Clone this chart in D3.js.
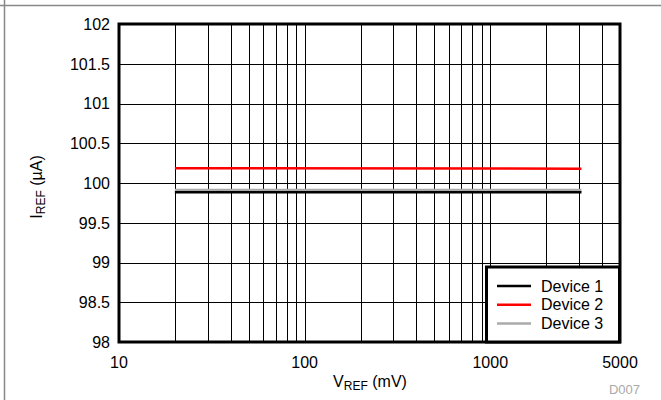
<!DOCTYPE html>
<html><head><meta charset="utf-8">
<script src="https://cdn.jsdelivr.net/npm/d3@7"></script>
<style>body{margin:0;background:#fff}svg{display:block}text{font-family:"Liberation Sans",Arial,sans-serif}</style>
</head><body><svg id="c" width="661" height="400"></svg>
<script>
const yTicks = [98, 98.5, 99, 99.5, 100, 100.5, 101, 101.5, 102];
const xTickLabels = [10, 100, 1000, 5000];
const xGrid = [20,30,40,50,60,70,80,90,100,200,300,400,500,600,700,800,900,1000,2000,3000,4000];
const seriesNames = ["Device 1", "Device 2", "Device 3"];
const seriesColors = ["#000000", "#ff0000", "#aaaaaa"];
const vref = [20, 3100];
const device1 = [99.885, 99.885];
const device2 = [100.185, 100.18];
const device3 = [99.91, 99.91];
const seriesData = [device1, device2, device3];

const svg = d3.select("#c");
const L = 119, R = 620, T = 24, B = 342;
const x = d3.scaleLog().domain([10, 5000]).range([L, R]);
const y = d3.scaleLinear().domain([98, 102]).range([B, T]);

// outer frame
svg.append("line").attr("x1",0).attr("x2",661).attr("y1",5.5).attr("y2",5.5).attr("stroke","#888").attr("stroke-width",1.5);
svg.append("line").attr("x1",4.5).attr("x2",4.5).attr("y1",0).attr("y2",400).attr("stroke","#888").attr("stroke-width",1.5);

// grid
svg.append("g").selectAll("line").data(xGrid).join("line")
  .attr("x1", d => Math.round(x(d))+0.5).attr("x2", d => Math.round(x(d))+0.5)
  .attr("y1", T).attr("y2", B).attr("stroke", "#000").attr("stroke-width", 1);
svg.append("g").selectAll("line").data(yTicks).join("line")
  .attr("x1", L).attr("x2", R)
  .attr("y1", d => Math.round(y(d))+0.5).attr("y2", d => Math.round(y(d))+0.5)
  .attr("stroke", "#000").attr("stroke-width", 1);

// series
const line = d3.line().x((d,i) => x(vref[i])).y(d => y(d));
const order = [2, 0, 1];
order.forEach(i => {
  svg.append("path").datum(seriesData[i]).attr("d", line)
    .attr("fill","none").attr("stroke", seriesColors[i]).attr("stroke-width", i===2 ? 3 : 2.5);
});

// frame
svg.append("rect").attr("x", L).attr("y", T).attr("width", R-L).attr("height", B-T)
  .attr("fill","none").attr("stroke","#000").attr("stroke-width",3);

// y tick labels
svg.append("g").selectAll("text").data(yTicks).join("text")
  .attr("x", 110).attr("y", d => y(d)).attr("dy","0.36em").attr("text-anchor","end")
  .attr("font-size", 16).text(d => d);
// x tick labels
svg.append("g").selectAll("text").data(xTickLabels).join("text")
  .attr("x", d => x(d)).attr("y", 368).attr("text-anchor","middle")
  .attr("font-size", 16).text(d => d);

// axis titles
const yt = svg.append("text").attr("transform","translate(42,187) rotate(-90)").attr("text-anchor","middle").attr("font-size",16);
yt.append("tspan").text("I");
yt.append("tspan").attr("font-size",12).attr("dy",3).text("REF");
yt.append("tspan").attr("dy",-3).text(" (µA)");
const xt = svg.append("text").attr("x", 370).attr("y", 387).attr("text-anchor","middle").attr("font-size",16);
xt.append("tspan").text("V");
xt.append("tspan").attr("font-size",12).attr("dy",3).text("REF");
xt.append("tspan").attr("dy",-3).text(" (mV)");

svg.append("text").attr("x", 640).attr("y", 394).attr("text-anchor","end").attr("font-size",13).attr("fill","#aaa").text("D007");

// legend
const lg = svg.append("g");
lg.append("rect").attr("x",486.5).attr("y",267).attr("width",133).attr("height",75).attr("fill","#fff").attr("stroke","#000").attr("stroke-width",3);
seriesNames.forEach((n,i) => {
  const yy = 286 + i*18.7;
  lg.append("line").attr("x1",497).attr("x2",531).attr("y1",yy).attr("y2",yy).attr("stroke",seriesColors[i]).attr("stroke-width",2.5);
  lg.append("text").attr("x",541).attr("y",yy).attr("dy","0.36em").attr("font-size",16).text(n);
});
</script></body></html>
